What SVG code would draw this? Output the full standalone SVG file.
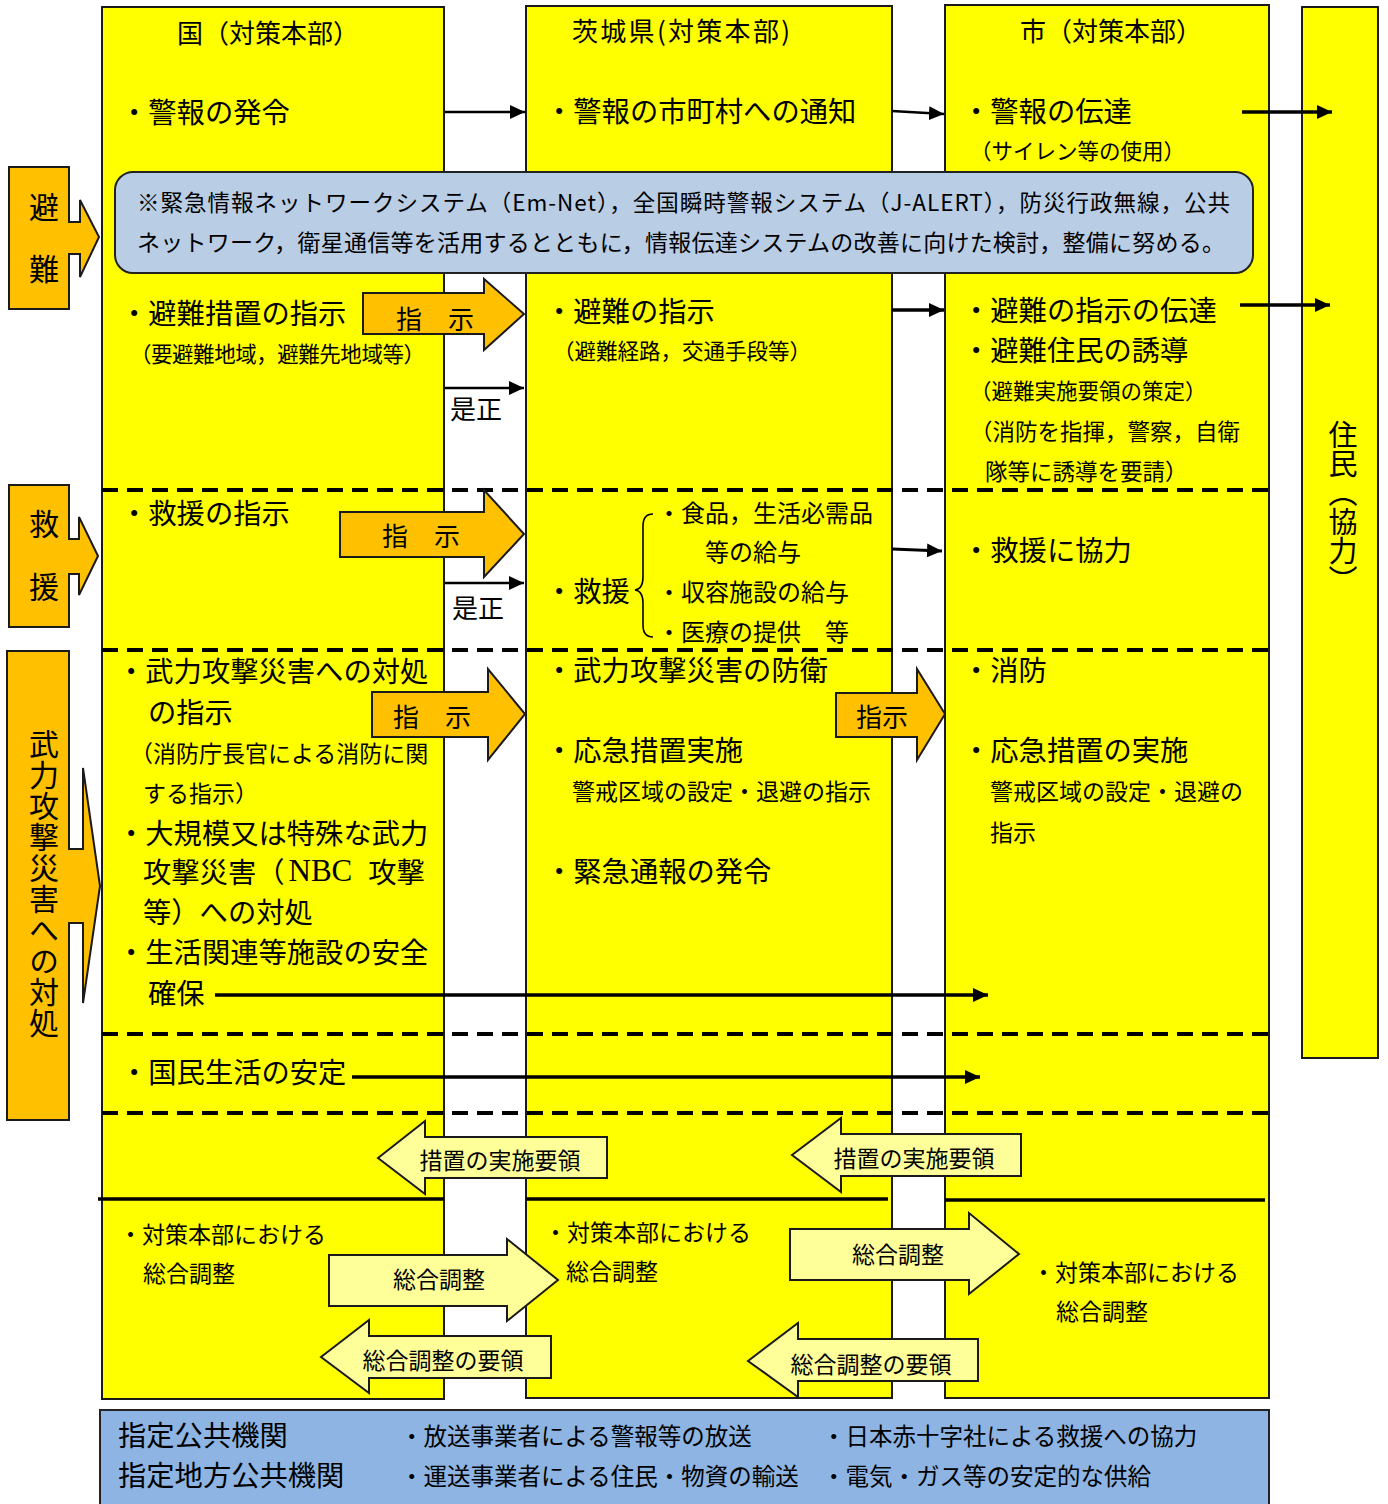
<svg xmlns="http://www.w3.org/2000/svg" width="1388" height="1504" viewBox="0 0 1388 1504">
<defs>
<style>
text{font-family:"Noto Sans CJK JP","Noto Sans",sans-serif;fill:#000;dominant-baseline:central}
.col{fill:#FFFF00;stroke:#1a1a1a;stroke-width:2}
.lab{fill:#FFC000;stroke:#1a1a1a;stroke-width:2}
.orn{fill:#FFC000;stroke:#1a1a1a;stroke-width:2}
.pale{fill:#FFFF99;stroke:#1a1a1a;stroke-width:2}
.ln{stroke:#000;stroke-width:2.5;fill:none;marker-end:url(#ah)}
.dash{stroke:#000;stroke-width:4;stroke-dasharray:16 9;fill:none}
.sol{stroke:#000;stroke-width:3.5;fill:none}
.f28{font-size:28.3px}
.f26{font-size:26px}
.f24{font-size:24px}
.f23{font-size:23px}
.f235{font-size:23.5px}
.f21{font-size:21.5px}
.f22{font-size:22.5px}
.vt{writing-mode:vertical-rl;font-size:30px}
.mid{text-anchor:middle}
</style>
<marker id="ah" markerWidth="15" markerHeight="14" refX="15" refY="7" orient="auto" markerUnits="userSpaceOnUse"><path d="M0,0 L15,7 L0,14 Z" fill="#000"/></marker>
</defs>

<g id="col-kuni">
<rect class="col" x="102" y="7" width="342" height="1392"/>
<text class="f26" x="177" y="31">国（対策本部）</text>
<text class="f28" x="120" y="110">・警報の発令</text>
<text class="f28" x="120" y="311">・避難措置の指示</text>
<text class="f21" x="130" y="352" textLength="295">（要避難地域，避難先地域等）</text>
<text class="f28" x="120" y="511">・救援の指示</text>
<text class="f28" x="117" y="669">・武力攻撃災害への対処</text>
<text class="f28" x="148" y="710">の指示</text>
<text class="f23" x="130" y="752">（消防庁長官による消防に関</text>
<text class="f23" x="143" y="792">する指示）</text>
<text class="f28" x="117" y="831">・大規模又は特殊な武力</text>
<text class="f28" x="143" y="870">攻撃災害（<tspan font-family="Liberation Serif, serif" font-size="31" dx="4">NBC</tspan><tspan dx="16">攻撃</tspan></text>
<text class="f28" x="143" y="910">等）への対処</text>
<text class="f28" x="117" y="950">・生活関連等施設の安全</text>
<text class="f28" x="148" y="991">確保</text>
<text class="f28" x="120" y="1070">・国民生活の安定</text>
<text class="f23" x="119" y="1233">・対策本部における</text>
<text class="f23" x="143" y="1272">総合調整</text>
</g>

<g id="col-ken">
<rect class="col" x="526" y="6" width="366" height="1392"/>
<text class="f26" x="572" y="29" textLength="218">茨城県(対策本部)</text>
<text class="f28" x="545" y="109">・警報の市町村への通知</text>
<text class="f28" x="545" y="309">・避難の指示</text>
<text class="f21" x="553" y="349">（避難経路，交通手段等）</text>
<text class="f28" x="545" y="589">・救援</text>
<path d="M653,514 Q643,514 643,526 L643,577 Q643,589 635,590 Q643,591 643,603 L643,625 Q643,637 653,637" fill="none" stroke="#000" stroke-width="1.6"/>
<text class="f24" x="657" y="511">・食品，生活必需品</text>
<text class="f24" x="705" y="550">等の給与</text>
<text class="f24" x="657" y="590">・収容施設の給与</text>
<text class="f24" x="657" y="630">・医療の提供　等</text>
<text class="f28" x="545" y="668">・武力攻撃災害の防衛</text>
<text class="f28" x="545" y="748">・応急措置実施</text>
<text class="f23" x="572" y="790">警戒区域の設定・退避の指示</text>
<text class="f28" x="545" y="869">・緊急通報の発令</text>
<text class="f23" x="544" y="1231">・対策本部における</text>
<text class="f23" x="566" y="1270">総合調整</text>
</g>

<g id="col-shi">
<rect class="col" x="945" y="5" width="324" height="1393"/>
<text class="f26" x="1020" y="29">市（対策本部）</text>
<text class="f28" x="962" y="109">・警報の伝達</text>
<text class="f21" x="970" y="149">（サイレン等の使用）</text>
<text class="f28" x="962" y="308">・避難の指示の伝達</text>
<text class="f28" x="962" y="348">・避難住民の誘導</text>
<text class="f21" x="970" y="389">（避難実施要領の策定）</text>
<text class="f22" x="970" y="430">（消防を指揮，警察，自衛</text>
<text class="f22" x="985" y="470">隊等に誘導を要請）</text>
<text class="f28" x="962" y="548">・救援に協力</text>
<text class="f28" x="962" y="668">・消防</text>
<text class="f28" x="962" y="748">・応急措置の実施</text>
<text class="f23" x="990" y="790">警戒区域の設定・退避の</text>
<text class="f23" x="990" y="831">指示</text>
<text class="f23" x="1032" y="1271">・対策本部における</text>
<text class="f23" x="1056" y="1310">総合調整</text>
</g>

<g id="col-jumin">
<rect class="col" x="1302" y="7" width="76" height="1051"/>
<text class="vt" x="1343" y="420" style="font-size:29px">住民（協力）</text>
</g>

<g id="label-hinan">
<path class="lab" d="M9,167 H69 V222 H80 V200 L99,237 L80,277 V254 H69 V309 H9 Z"/>
<text class="vt" x="44" y="192" style="letter-spacing:32px">避難</text>
</g>
<g id="label-kyuen">
<path class="lab" d="M9,485 H69 V539 H79 V517 L98,556 L79,595 V574 H69 V627 H9 Z"/>
<text class="vt" x="44" y="509" style="letter-spacing:33px">救援</text>
</g>
<g id="label-buryoku">
<path class="lab" d="M7,651 H69 V849 H83 V768 L100,886 L83,1003 V923 H69 V1120 H7 Z"/>
<text class="vt" x="44" y="729" style="letter-spacing:1px">武力攻撃災害への対処</text>
</g>

<g id="section-lines">
<line class="dash" x1="102" y1="490" x2="1268" y2="490"/>
<line class="dash" x1="102" y1="650" x2="1268" y2="650"/>
<line class="dash" x1="102" y1="1034" x2="1268" y2="1034"/>
<line class="dash" x1="102" y1="1113" x2="1268" y2="1113"/>
<line class="sol" x1="98" y1="1199" x2="444" y2="1199"/>
<line class="sol" x1="526" y1="1199" x2="888" y2="1199"/>
<line class="sol" x1="945" y1="1200" x2="1265" y2="1200"/>
</g>

<g id="info-box">
<rect x="115" y="172" width="1138" height="101" rx="18" fill="#B9CDE5" stroke="#222" stroke-width="2"/>
<text x="137" y="201" style="font-size:22.5px" textLength="1093">※緊急情報ネットワークシステム（Em-Net），全国瞬時警報システム（J-ALERT），防災行政無線，公共</text>
<text x="137" y="241" style="font-size:23px" textLength="1088">ネットワーク，衛星通信等を活用するとともに，情報伝達システムの改善に向けた検討，整備に努める。</text>
</g>

<g id="connectors">
<line class="ln" x1="445" y1="112" x2="525" y2="112"/>
<line class="ln" x1="892" y1="111" x2="944" y2="114"/>
<line class="ln" style="stroke-width:3.5" x1="1242" y1="112" x2="1332" y2="112"/>
<line class="ln" style="stroke-width:3.5" x1="892" y1="310" x2="944" y2="310"/>
<line class="ln" style="stroke-width:3.5" x1="1240" y1="305" x2="1330" y2="305"/>
<line class="ln" x1="445" y1="388" x2="524" y2="388"/>
<text class="f26" x="450" y="407">是正</text>
<line class="ln" x1="445" y1="583" x2="524" y2="583"/>
<text class="f26" x="452" y="606">是正</text>
<line class="ln" style="stroke-width:3" x1="892" y1="549" x2="942" y2="551"/>
<line class="ln" style="stroke-width:3.5" x1="215" y1="995" x2="988" y2="995"/>
<line class="ln" style="stroke-width:3.5" x1="352" y1="1077" x2="980" y2="1077"/>

<path class="orn" d="M363,293 H484 V279 L524,314 L484,350 V334 H363 Z"/>
<text class="f26 mid" x="435" y="317">指　示</text>
<path class="orn" d="M340,512 H484 V490 L524,534 L484,577 V557 H340 Z"/>
<text class="f26 mid" x="421" y="534">指　示</text>
<path class="orn" d="M372,692 H488 V669 L525,714 L488,760 V737 H372 Z"/>
<text class="f26 mid" x="432" y="715">指　示</text>
<path class="orn" d="M836,693 H917 V669 L945,714 L917,760 V737 H836 Z"/>
<text class="f26 mid" x="882" y="715">指示</text>

<path class="pale" d="M378,1158 L425,1121 V1137 H607 V1178 H425 V1194 Z"/>
<text class="f23 mid" x="500" y="1159">措置の実施要領</text>
<path class="pale" d="M792,1155 L841,1118 V1134 H1021 V1176 H841 V1192 Z"/>
<text class="f23 mid" x="914" y="1157">措置の実施要領</text>
<path class="pale" d="M329,1255 H507 V1239 L558,1280 L507,1321 V1306 H329 Z"/>
<text class="f23 mid" x="439" y="1278">総合調整</text>
<path class="pale" d="M790,1229 H969 V1213 L1019,1254 L969,1294 V1280 H790 Z"/>
<text class="f23 mid" x="898" y="1253">総合調整</text>
<path class="pale" d="M321,1357 L369,1320 V1336 H551 V1378 H369 V1393 Z"/>
<text class="f23 mid" x="443" y="1359">総合調整の要領</text>
<path class="pale" d="M748,1361 L798,1323 V1339 H978 V1381 H798 V1397 Z"/>
<text class="f23 mid" x="871" y="1363">総合調整の要領</text>
</g>

<g id="bottom-box">
<rect x="100" y="1410" width="1169" height="100" fill="#8DB4E2" stroke="#222" stroke-width="2"/>
<text class="f28" x="118" y="1433">指定公共機関</text>
<text class="f28" x="118" y="1473">指定地方公共機関</text>
<text class="f235" x="400" y="1435">・放送事業者による警報等の放送</text>
<text class="f235" x="400" y="1475">・運送事業者による住民・物資の輸送</text>
<text class="f235" x="822" y="1435">・日本赤十字社による救援への協力</text>
<text class="f235" x="822" y="1475">・電気・ガス等の安定的な供給</text>
</g>
</svg>
